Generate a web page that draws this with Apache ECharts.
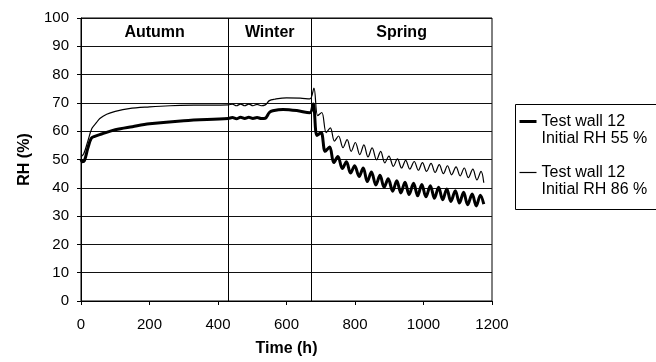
<!DOCTYPE html>
<html>
<head>
<meta charset="utf-8">
<script src="https://cdn.jsdelivr.net/npm/echarts@6/dist/echarts.min.js"></script>
<style>
  html, body { margin: 0; padding: 0; background: #fff; }
  #chart { width: 656px; height: 362px; }
</style>
</head>
<body>
<div id="chart"></div>
<script>
// season boundaries (h) and names
const seasonEdges = [0, 430, 672, 1200];
const seasonNames = ['Autumn', 'Winter', 'Spring'];

const xTicks = [0, 200, 400, 600, 800, 1000, 1200];

// Test wall 12, initial RH 55 % (thick line)
const timeThick = [0, 4, 10, 20, 30, 40, 60, 100, 150, 200, 300, 430,
  442, 454, 466, 478, 490, 502, 514, 526, 538, 550, 560, 590, 630, 668,
  678, 689, 701, 713, 726, 738, 750, 763, 775, 787, 799, 812, 824, 836, 848, 861, 873, 885, 897, 910,
  922, 934, 946, 958, 971, 983, 995, 1007, 1020, 1032, 1044, 1056, 1068, 1080, 1093, 1105, 1117, 1129,
  1142, 1154, 1166, 1176];
const rhThick = [50, 49.2, 49.6, 54, 57.5, 58.2, 59, 60.5, 61.6, 62.6, 63.7, 64.5,
  64.8, 64.4, 64.9, 64.5, 64.9, 64.5, 64.8, 64.5, 64.6, 66.6, 67.2, 67.7, 67.3, 66.5,
  69.6, 58.5, 59.5, 52.9, 54.4, 48.9, 51.1, 46.8, 49.2, 45.2, 47.8, 44.0, 47.0, 42.2, 45.6, 41.0, 44.4, 40.2, 43.2, 38.8,
  42.5, 38.2, 42.0, 37.6, 41.6, 37.2, 41.2, 36.8, 40.7, 36.3, 40.2, 35.8, 39.6, 35.2, 39.0, 34.6, 38.4, 34.0,
  37.8, 33.6, 37.4, 34.2];

// Test wall 12, initial RH 86 % (thin line)
const timeThin = [0, 8, 20, 32, 45, 55, 75, 100, 140, 200, 260, 340, 430,
  442, 454, 466, 478, 490, 502, 514, 526, 538, 550, 565, 600, 640, 668,
  680, 691, 703, 716, 728, 740, 752, 765, 777, 789, 801, 814, 826, 838, 850, 863, 875, 887, 899, 912,
  924, 936, 948, 960, 973, 985, 997, 1009, 1022, 1034, 1046, 1058, 1070, 1082, 1095, 1107, 1119, 1131,
  1144, 1156, 1168, 1176];
const rhThin = [51, 52, 56.5, 61, 63, 64.5, 66, 67, 68, 68.6, 69, 69.2, 69.3,
  69.6, 69.0, 69.6, 69.0, 69.6, 69.0, 69.5, 69.0, 69.3, 70.8, 71.3, 71.8, 71.7, 71.4,
  75.2, 65.5, 66.6, 59.5, 61.2, 56.5, 58.3, 54.2, 57.0, 52.9, 56.0, 51.7, 55.2, 50.9, 54.1, 49.9, 52.9, 48.8, 51.2, 47.6,
  50.2, 47.0, 49.7, 46.6, 49.3, 46.2, 48.9, 45.8, 48.6, 45.4, 48.2, 45.0, 47.8, 44.6, 47.4, 44.2, 47.0, 43.6,
  46.6, 42.8, 45.8, 41.8];

const nameThick = 'Test wall 12\nInitial RH 55 %';
const nameThin = 'Test wall 12\nInitial RH 86 %';

const font = '"Liberation Sans", Arial, sans-serif';

const seasonAreas = seasonNames.map((name, i) => [
  { name: name, xAxis: seasonEdges[i], yAxis: 90 },
  { xAxis: seasonEdges[i + 1], yAxis: 100 },
]);

const chart = echarts.init(document.getElementById('chart'), null, { renderer: 'canvas' });

chart.setOption({
  animation: false,
  backgroundColor: '#fff',
  textStyle: { fontFamily: font, color: '#000' },
  grid: {
    left: 81,
    right: 164,
    top: 18,
    bottom: 61,
    show: true,
    borderColor: '#000',
    borderWidth: 1,
  },
  legend: {
    orient: 'vertical',
    left: 518,
    top: 96,
    padding: 0,
    itemGap: 0,
    itemWidth: 17,
    itemHeight: 10,
    data: [
      { name: nameThick, lineStyle: { width: 3, color: '#000' } },
      { name: nameThin, lineStyle: { width: 1.2, color: '#000' } },
    ],
    itemStyle: { opacity: 0, borderWidth: 0 },
    // blank first line so the sample line sits level with "Test wall 12"
    formatter: (name) => ' \n' + name,
    textStyle: {
      fontFamily: font,
      fontSize: 16,
      lineHeight: 17,
      color: '#000',
    },
  },
  graphic: [
    {
      type: 'rect',
      left: 513,
      top: 102,
      shape: { width: 142, height: 105 },
      style: { fill: 'none', stroke: '#000', lineWidth: 1 },
      silent: true,
    },
  ],
  xAxis: {
    type: 'value',
    min: 0,
    max: 1200,
    interval: 200,
    name: 'Time (h)',
    nameLocation: 'middle',
    nameGap: 40,
    nameTextStyle: { fontFamily: font, fontSize: 16, fontWeight: 'bold', color: '#000' },
    axisLine: { lineStyle: { color: '#000', width: 1 } },
    axisTick: { show: true, length: 4, inside: false, lineStyle: { color: '#000' } },
    axisLabel: {
      fontFamily: font,
      fontSize: 15,
      color: '#000',
      margin: 16,
      formatter: (v) => (xTicks.includes(v) ? String(v) : ''),
    },
    splitLine: { show: false },
  },
  yAxis: {
    type: 'value',
    min: 0,
    max: 100,
    interval: 10,
    name: 'RH (%)',
    nameLocation: 'middle',
    nameGap: 44,
    nameTextStyle: { fontFamily: font, fontSize: 16, fontWeight: 'bold', color: '#000' },
    axisLine: { show: true, lineStyle: { color: '#000', width: 1 } },
    axisTick: { show: true, length: 4, lineStyle: { color: '#000' } },
    axisLabel: { fontFamily: font, fontSize: 15, color: '#000', margin: 12 },
    splitLine: { show: true, lineStyle: { color: '#111', width: 1 } },
  },
  series: [
    {
      name: nameThick,
      type: 'line',
      symbol: 'none',
      smooth: 0.35,
      data: timeThick.map((t, i) => [t, rhThick[i]]),
      lineStyle: { color: '#000', width: 3 },
      itemStyle: { color: '#000' },
      z: 3,
      markLine: {
        silent: true,
        symbol: 'none',
        label: { show: false },
        lineStyle: { color: '#000', width: 1, type: 'solid' },
        data: [{ xAxis: seasonEdges[1] }, { xAxis: seasonEdges[2] }],
      },
      markArea: {
        silent: true,
        itemStyle: { color: 'rgba(0,0,0,0)' },
        label: {
          show: true,
          position: 'inside',
          fontFamily: font,
          fontSize: 16,
          fontWeight: 'bold',
          color: '#000',
        },
        data: seasonAreas,
      },
    },
    {
      name: nameThin,
      type: 'line',
      symbol: 'none',
      smooth: 0.35,
      data: timeThin.map((t, i) => [t, rhThin[i]]),
      lineStyle: { color: '#000', width: 1.2 },
      itemStyle: { color: '#000' },
      z: 4,
    },
  ],
});
</script>
</body>
</html>
